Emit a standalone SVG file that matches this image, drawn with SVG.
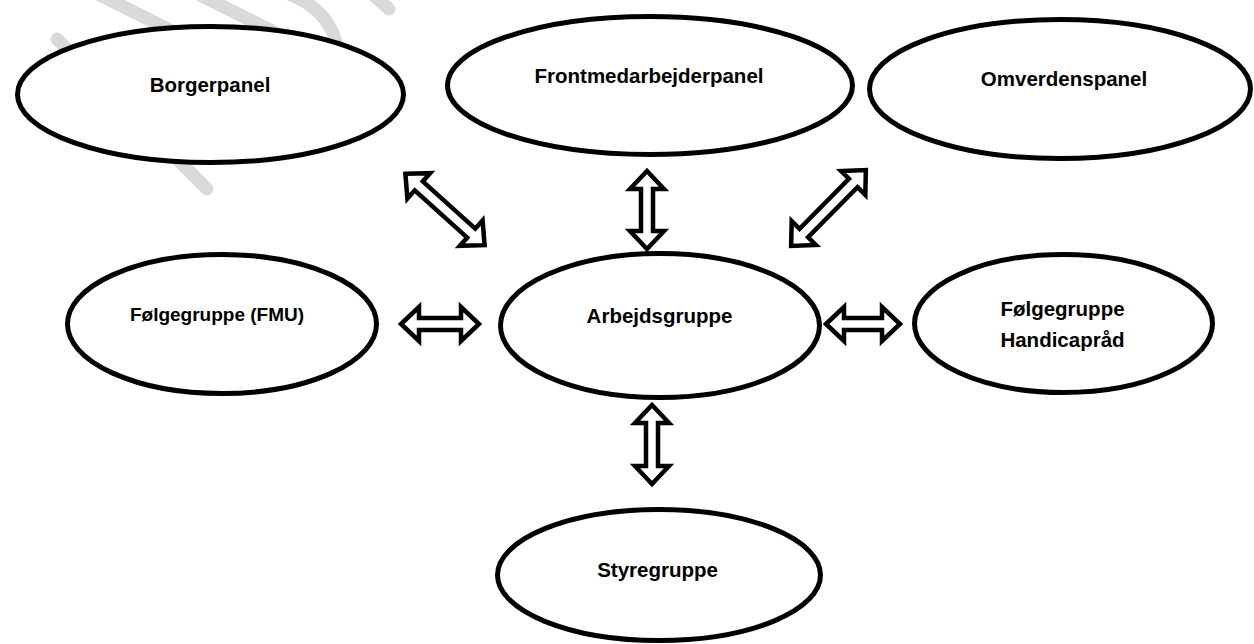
<svg xmlns="http://www.w3.org/2000/svg" width="1254" height="644" viewBox="0 0 1254 644">
<style>
.bg{fill:#ffffff}
.wm{fill:none;stroke:#d9d9d9;stroke-width:13;stroke-linecap:round}
.node ellipse{fill:#ffffff;stroke:#000000;stroke-width:5}
.node text{font-family:"Liberation Sans",Arial,sans-serif;font-weight:bold;font-size:20.5px;fill:#000000;text-anchor:middle}
.arr{fill:#ffffff;stroke:#000000;stroke-width:4.5;stroke-linejoin:miter;stroke-miterlimit:10}
</style>
<rect class="bg" x="0" y="0" width="1254" height="644"/>
<g id="watermark">
<path class="wm" d="M57 39 L207 189"/>
<path class="wm" d="M90 -10 L200 45"/>
<path class="wm" d="M190 -10 L290 40"/>
<path class="wm" d="M283 -8 Q326 6 336 42"/>
<path class="wm" d="M372 -6 L389 9"/>
</g>
<g id="connectors">
<path class="arr" transform="translate(445 209.5) rotate(42)" d="M-53.3 0 L-35.3 -17 L-35.3 -6 L35.3 -6 L35.3 -17 L53.3 0 L35.3 17 L35.3 6 L-35.3 6 L-35.3 17 Z"/>
<path class="arr" transform="translate(647 210) rotate(90)" d="M-39 0 L-21 -17 L-21 -6 L21 -6 L21 -17 L39 0 L21 17 L21 6 L-21 6 L-21 17 Z"/>
<path class="arr" transform="translate(828.5 208) rotate(-45.4)" d="M-53.2 0 L-35.2 -17 L-35.2 -6 L35.2 -6 L35.2 -17 L53.2 0 L35.2 17 L35.2 6 L-35.2 6 L-35.2 17 Z"/>
<path class="arr" transform="translate(440 324)" d="M-39 0 L-21 -17 L-21 -6 L21 -6 L21 -17 L39 0 L21 17 L21 6 L-21 6 L-21 17 Z"/>
<path class="arr" transform="translate(863 324)" d="M-37 0 L-19 -17 L-19 -6 L19 -6 L19 -17 L37 0 L19 17 L19 6 L-19 6 L-19 17 Z"/>
<path class="arr" transform="translate(652 444.5) rotate(90)" d="M-39.5 0 L-21.5 -17 L-21.5 -6 L21.5 -6 L21.5 -17 L39.5 0 L21.5 17 L21.5 6 L-21.5 6 L-21.5 17 Z"/>
</g>
<g id="borgerpanel" class="node">
<ellipse cx="210.5" cy="94.5" rx="193" ry="68"/>
<text x="210" y="92">Borgerpanel</text>
</g>
<g id="frontmedarbejderpanel" class="node">
<ellipse cx="650" cy="85.5" rx="202.5" ry="69"/>
<text x="649" y="83">Frontmedarbejderpanel</text>
</g>
<g id="omverdenspanel" class="node">
<ellipse cx="1060" cy="89" rx="190.5" ry="69.5"/>
<text x="1064" y="86">Omverdenspanel</text>
</g>
<g id="foelgegruppe-fmu" class="node">
<ellipse cx="222" cy="324" rx="154.5" ry="69.5"/>
<text x="217" y="321" style="font-size:19px">Følgegruppe (FMU)</text>
</g>
<g id="arbejdsgruppe" class="node">
<ellipse cx="660" cy="325.5" rx="159.5" ry="72"/>
<text x="659.5" y="323">Arbejdsgruppe</text>
</g>
<g id="foelgegruppe-handicapraad" class="node">
<ellipse cx="1063.5" cy="323.5" rx="149" ry="69"/>
<text x="1062.5" y="316">Følgegruppe</text>
<text x="1062.5" y="347">Handicapråd</text>
</g>
<g id="styregruppe" class="node">
<ellipse cx="659" cy="575" rx="161.5" ry="65.5"/>
<text x="657.5" y="577">Styregruppe</text>
</g>
</svg>
